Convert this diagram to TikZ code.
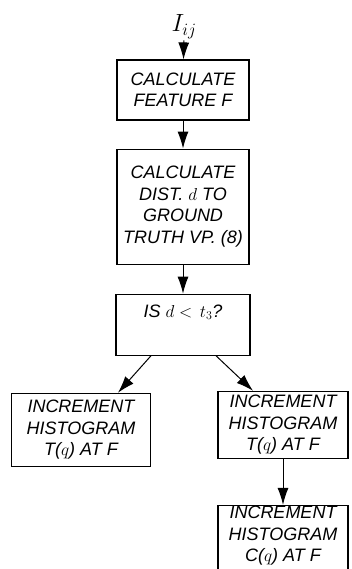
\documentclass[tikz,border=0pt]{standalone}
\usepackage{fontspec}
\setmainfont{Liberation Sans}
\usetikzlibrary{positioning,arrows.meta}

\begin{document}
\begin{tikzpicture}[x=1pt, y=1pt,
    ->,
    >={Latex[length=17pt,width=11pt]},
    line width=1pt,
    bb/.style={%
      rectangle, draw=black, line width=1.1pt, fill=white,
      font=\fontsize{18}{21.5}\selectfont\itshape,
      minimum width=132pt, inner sep=2pt, align=center
    },
    inv/.style={%
      rectangle, draw=none, inner sep=1pt,
      font=\fontsize{23}{24}\selectfont
    }
]
    \useasboundingbox (0,0) rectangle (351,-569);

    \node[bb, minimum height=60pt]  (feat) at (183,-90)  {CALCULATE\\FEATURE F};
    \node[inv] (in) [above = 19pt of feat, xshift=1pt] {$I_{ij}$};
    \node[bb, minimum height=115pt] (dist) [below = 28pt of feat]
        {CALCULATE\\DIST. $d$ TO\\GROUND\\TRUTH VP. (8)};
    \node[bb, minimum width=134pt, minimum height=61pt] (test) [below = 29pt of dist]
        {IS $d <\, t_3$?\\\strut};
    \node[bb, minimum width=139pt, minimum height=73pt] (hist1)
        [below = 37pt of test, xshift=-102pt] {INCREMENT\\HISTOGRAM\\T($q$) AT F};
    \node[bb, minimum width=130pt, minimum height=67pt] (hist2)
        [below = 35pt of test, xshift=100pt] {INCREMENT\\HISTOGRAM\\T($q$) AT F};
    \node[bb, minimum width=130pt, inner ysep=1pt] (count)
        [below = 46pt of hist2] {INCREMENT\\HISTOGRAM\\C($q$) AT F\\[6pt]};

    \path (in)   edge (feat)
          (feat) edge (dist)
          (dist) edge (test)
          ([xshift=-32pt]test.south) edge ([xshift=37pt]hist1.north)
          ([xshift=33pt]test.south)  edge ([xshift=-30pt]hist2.north)
          (hist2) edge (count)
    ;

\end{tikzpicture}
\end{document}
